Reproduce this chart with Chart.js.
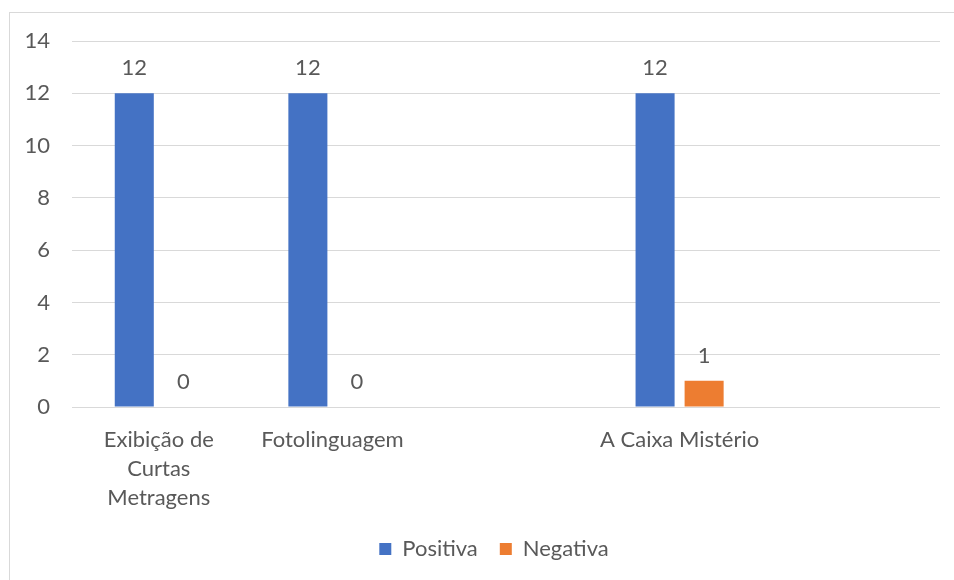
<!DOCTYPE html>
<html>
<head>
<meta charset="utf-8">
<script src="https://cdn.jsdelivr.net/npm/chart.js@4"></script>
<style>
  html, body { margin: 0; padding: 0; background: #fff; overflow: hidden; }
  #wrap { position: relative; width: 954px; height: 580px; }
  #frame { position: absolute; left: 9px; top: 12px; width: 960px; height: 600px; border: 1px solid #d9d9d9; }
  canvas { position: absolute; left: 0; top: 0; }
</style>
</head>
<body>
<div id="wrap">
  <div id="frame"></div>
  <canvas id="myChart" width="954" height="580"></canvas>
</div>
<script>
// categories (3rd and 5th slots are empty in the original sheet)
const categories = [["Exibição de", "Curtas", "Metragens"], "Fotolinguagem", "", "A Caixa Mistério", ""];
const positiva = [12, 12, null, 12, null];
const negativa = [0, 0, null, 1, null];
const yTicks = [0, 2, 4, 6, 8, 10, 12, 14];

const txtColor = '#595959';
const fontFam = 'Lato, "Open Sans", sans-serif';
const fSize = 22;

// value labels above bars, like excel data labels
const barLabels = {
    id: 'barLabels',
    afterDatasetsDraw(chart) {
        const c = chart.ctx;
        c.save();
        c.font = fSize + 'px ' + fontFam;
        c.fillStyle = txtColor;
        c.textAlign = 'center';
        c.textBaseline = 'middle';
        chart.data.datasets.forEach((ds, i) => {
            chart.getDatasetMeta(i).data.forEach((bar, j) => {
                if (ds.data[j] === null) return;
                c.fillText(ds.data[j], bar.x, bar.y - 25);
            });
        });
        c.restore();
    }
};

// legend sits a bit right of canvas center in the original
const legendShift = {
    id: 'legendShift',
    afterLayout(chart) {
        chart.legend.left += 24;
        chart.legend.right += 24;
    }
};

let ctx1 = document.getElementById('myChart').getContext('2d');
let myChart = new Chart(ctx1, {
    type: 'bar',
    data: {
        labels: categories,
        datasets: [{
            label: 'Positiva',
            data: positiva,
            backgroundColor: '#4472c4',
            categoryPercentage: 0.565,
            barPercentage: 0.796
        }, {
            label: 'Negativa',
            data: negativa,
            backgroundColor: '#ed7d31',
            categoryPercentage: 0.565,
            barPercentage: 0.796
        }]
    },
    options: {
        responsive: false,
        animation: false,
        layout: { padding: { left: 0, right: 14, top: 41, bottom: 10 } },
        plugins: {
            tooltip: { enabled: false },
            legend: {
                position: 'bottom',
                labels: {
                    color: txtColor,
                    font: { family: fontFam, size: fSize },
                    boxWidth: 12,
                    boxHeight: 12,
                    padding: 22
                }
            }
        },
        scales: {
            x: {
                grid: { display: false },
                border: { display: false },
                ticks: {
                    color: txtColor,
                    font: { family: fontFam, size: fSize, lineHeight: 1.32 },
                    maxRotation: 0,
                    autoSkip: false,
                    padding: 10
                },
                afterFit: (s) => { s.height = 109; }
            },
            y: {
                min: 0,
                max: 14,
                afterBuildTicks: (s) => { s.ticks = yTicks.map(v => ({ value: v })); },
                grid: { color: '#d9d9d9', lineWidth: 1, drawTicks: false },
                border: { display: false },
                ticks: {
                    color: txtColor,
                    font: { family: fontFam, size: fSize },
                    padding: 22
                },
                afterFit: (s) => { s.width = 72; }
            }
        }
    },
    plugins: [barLabels, legendShift]
});
</script>
</body>
</html>
